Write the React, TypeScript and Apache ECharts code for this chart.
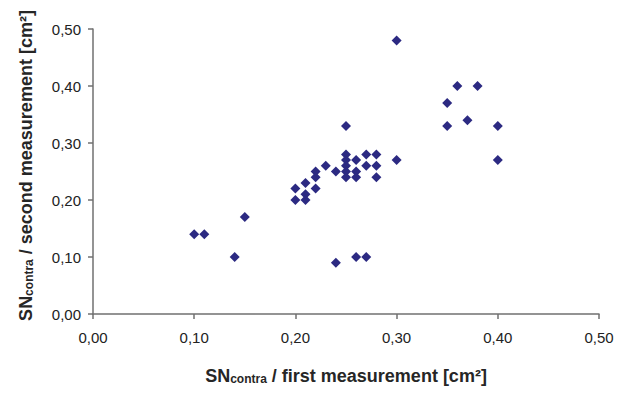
import React, { useEffect, useRef } from "react";
import * as echarts from "echarts";

const firstMeasurement = [
  0.10, 0.11, 0.14, 0.15,
  0.20, 0.20, 0.21, 0.21, 0.21, 0.22, 0.22, 0.22, 0.23, 0.24, 0.24,
  0.25, 0.25, 0.25, 0.25, 0.25, 0.25,
  0.26, 0.26, 0.26, 0.26,
  0.27, 0.27, 0.27,
  0.28, 0.28, 0.28,
  0.30, 0.30,
  0.35, 0.35, 0.36, 0.37, 0.38, 0.40, 0.40,
];
const secondMeasurement = [
  0.14, 0.14, 0.10, 0.17,
  0.20, 0.22, 0.20, 0.21, 0.23, 0.22, 0.24, 0.25, 0.26, 0.25, 0.09,
  0.33, 0.28, 0.27, 0.26, 0.25, 0.24,
  0.27, 0.25, 0.24, 0.10,
  0.28, 0.26, 0.10,
  0.28, 0.26, 0.24,
  0.48, 0.27,
  0.37, 0.33, 0.40, 0.34, 0.40, 0.33, 0.27,
];
const axisMin = 0;
const axisMax = 0.5;
const axisStep = 0.1;

const fmt = (v: number) => v.toFixed(2).replace(".", ",");
const FONT = "Liberation Sans, Arial, sans-serif";

export default function App() {
  const ref = useRef<HTMLDivElement>(null);
  useEffect(() => {
    if (!ref.current) return;
    const chart = echarts.init(ref.current, null, { renderer: "svg" });
    const data = firstMeasurement.map((x, i) => [x, secondMeasurement[i]]);
    const nameStyle = (padding: number[]) => ({
      fontFamily: FONT,
      fontSize: 18,
      fontWeight: "bold",
      color: "#262626",
      padding,
      rich: {
        b: { fontSize: 18, fontWeight: "bold", color: "#262626", fontFamily: FONT },
        sub: { fontSize: 12, fontWeight: "bold", color: "#262626", verticalAlign: "bottom", padding: [7, 0, 0, 0], fontFamily: FONT },
      },
    });
    const axisCommon = {
      type: "value",
      min: axisMin,
      max: axisMax,
      interval: axisStep,
      splitLine: { show: false },
      axisLine: { show: true, lineStyle: { color: "#707070", width: 1.5 } },
      axisTick: { show: true, length: 5, lineStyle: { color: "#707070", width: 1.5 } },
      axisLabel: {
        formatter: fmt,
        color: "#222222",
        fontFamily: FONT,
        fontSize: 15,
      },
      nameLocation: "middle",
    };
    chart.setOption({
      animation: false,
      backgroundColor: "#ffffff",
      grid: { left: 93, right: 31, top: 29, bottom: 79 },
      xAxis: {
        ...axisCommon,
        name: "{b|SN}{sub|contra}{b| / first measurement [cm²]}",
        nameGap: 52,
        nameTextStyle: nameStyle([0, 0, 0, 0]),
        axisLabel: { ...axisCommon.axisLabel, margin: 16 },
      },
      yAxis: {
        ...axisCommon,
        name: "{b|SN}{sub|contra}{b| / second measurement [cm²]}",
        nameGap: 58,
        nameTextStyle: nameStyle([0, 0, 0, 12]),
        axisLabel: { ...axisCommon.axisLabel, margin: 12 },
      },
      series: [
        {
          type: "scatter",
          symbol: "diamond",
          symbolSize: 10,
          itemStyle: { color: "#2c2a82", opacity: 1 },
          data,
        },
      ],
    });
    return () => chart.dispose();
  }, []);
  return <div ref={ref} style={{ width: 630, height: 393, position: "absolute", left: 0, top: 0 }} />;
}
